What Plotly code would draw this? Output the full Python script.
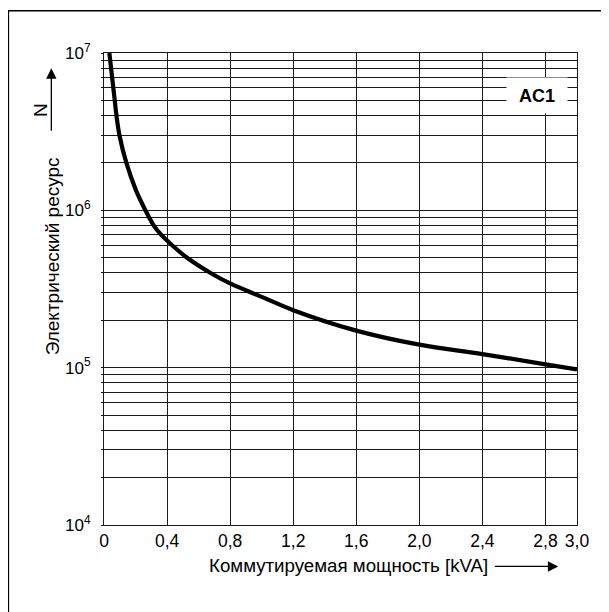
import plotly.graph_objects as go

# ---- data ----
power_kva = [0.034, 0.068, 0.079, 0.098, 0.142, 0.203, 0.263, 0.316, 0.362, 0.432, 0.527, 0.676,
             0.80, 1.00, 1.20, 1.60, 2.00, 2.40, 2.80, 3.00]
life_n = [1.0e7, 5.0e6, 4.0e6, 3.0e6, 2.0e6, 1.34e6, 1.0e6, 8.0e5, 7.0e5, 6.0e5, 5.0e5, 4.0e5,
          3.43e5, 2.82e5, 2.32e5, 1.72e5, 1.40e5, 1.22e5, 1.05e5, 9.75e4]

x_tickvals = [0, 0.4, 0.8, 1.2, 1.6, 2.0, 2.4, 2.8, 3.0]
x_ticktext = ["0", "0,4", "0,8", "1,2", "1,6", "2,0", "2,4", "2,8", "3,0"]
y_decades = [1e4, 1e5, 1e6, 1e7]
y_decade_text = ["10<sup>4</sup>", "10<sup>5</sup>", "10<sup>6</sup>", "10<sup>7</sup>"]
y_minor = [m * d for d in y_decades[:-1] for m in range(2, 10)]

x_title = "Коммутируемая мощность [kVA]"
y_title = "Электрический ресурс"
y_symbol = "N"
curve_label = "AC1"

FONT = "Liberation Sans, Arial, sans-serif"
GRID = "#1a1a1a"

fig = go.Figure()
fig.add_trace(go.Scatter(
    x=power_kva, y=life_n, mode="lines",
    line=dict(color="black", width=4.2, shape="spline", smoothing=1.0),
    showlegend=False, hoverinfo="skip",
))

# page body has an 8px margin; work in page pixels and convert
OFF = 8
L, R, T, B = 104.3 - OFF, 576.7 - OFF, 52.7 - OFF, 525.0 - OFF
W, H = 609 - OFF, 612 - OFF
pw, ph = R - L, B - T


def px(xpage):
    return (xpage - OFF - L) / pw


def py(ypage):
    return (B - (ypage - OFF)) / ph


fig.update_layout(
    width=W, height=H,
    margin=dict(l=L, r=W - R, t=T, b=H - B, pad=0),
    paper_bgcolor="white", plot_bgcolor="white",
    font=dict(family=FONT, size=17, color="black"),
    xaxis=dict(
        range=[0, 3.0], tickvals=x_tickvals, ticktext=x_ticktext,
        showgrid=True, gridcolor=GRID, gridwidth=1,
        showline=True, linecolor=GRID, linewidth=1, mirror=True,
        ticks="", zeroline=False, ticklabelstandoff=0,
        tickfont=dict(size=17.5),
    ),
    yaxis=dict(
        type="log", range=[4, 7],
        tickvals=y_decades, ticktext=y_decade_text,
        showgrid=True, gridcolor=GRID, gridwidth=1,
        showline=True, linecolor=GRID, linewidth=1, mirror=True,
        ticks="outside", ticklen=2, tickcolor=GRID,
        ticklabelstandoff=7,
        tickfont=dict(size=17),
        minor=dict(tickvals=y_minor, showgrid=True, gridcolor=GRID, gridwidth=1,
                   ticks="outside", ticklen=2, tickcolor=GRID),
    ),
)

# outer frame (extends beyond right and bottom edges)
fig.add_shape(type="rect", xref="paper", yref="paper",
              x0=px(8.8), x1=px(630), y0=py(640), y1=py(10.3),
              line=dict(color="black", width=1.5), fillcolor="rgba(0,0,0,0)", layer="above")

annotations = [
    # curve label with white background box
    dict(text="<b>" + curve_label + "</b>", xref="paper", yref="paper",
         x=px(537), y=py(95.5), xanchor="center", yanchor="middle",
         showarrow=False, bgcolor="white", width=60, height=35, borderpad=0,
         font=dict(size=18, family=FONT)),
    # y title
    dict(text=y_title, xref="paper", yref="paper", x=px(52.5), y=py(256),
         xanchor="center", yanchor="middle", textangle=-90, showarrow=False,
         font=dict(size=19, family=FONT)),
    dict(text=y_symbol, xref="paper", yref="paper", x=px(41), y=py(110),
         xanchor="center", yanchor="middle", textangle=-90, showarrow=False,
         font=dict(size=19, family=FONT)),
    # y arrow (tip at top, tail 64 px below)
    dict(text="", xref="paper", yref="paper",
         x=px(51.7), y=py(68), ax=0, ay=64,
         showarrow=True, arrowhead=2, arrowsize=1.6, arrowwidth=1.3, arrowcolor="black"),
    # x title
    dict(text=x_title, xref="paper", yref="paper", x=px(348.5), y=py(566),
         xanchor="center", yanchor="middle", showarrow=False,
         font=dict(size=18.7, family=FONT)),
    # x arrow (tip at right, tail 65 px left)
    dict(text="", xref="paper", yref="paper",
         x=px(558), y=py(566.5), ax=-65, ay=0,
         showarrow=True, arrowhead=2, arrowsize=1.6, arrowwidth=1.3, arrowcolor="black"),
]
fig.update_layout(annotations=annotations)

fig.write_html("out.html")
